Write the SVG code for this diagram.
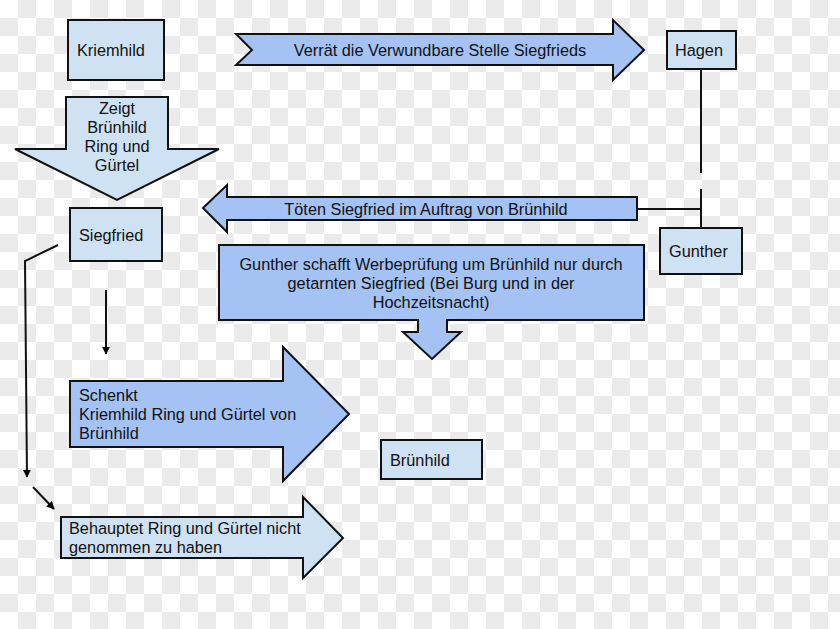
<svg xmlns="http://www.w3.org/2000/svg" width="840" height="629" viewBox="0 0 840 629">
<defs>
<pattern id="chk" x="0" y="0" width="36" height="36" patternUnits="userSpaceOnUse">
<rect width="36" height="36" fill="#ffffff"/>
<rect x="18" y="0" width="18" height="18" fill="#ebebeb"/>
<rect x="0" y="18" width="18" height="18" fill="#ebebeb"/>
</pattern>
<marker id="ah" viewBox="0 0 10 10" refX="9" refY="5" markerWidth="8" markerHeight="8" orient="auto" markerUnits="userSpaceOnUse">
<path d="M0,0 L10,5 L0,10 z" fill="#000"/>
</marker>
</defs>
<style>
.light{fill:#cfe2f3;stroke:#111;stroke-width:2}
.mid{fill:#a4c2f4;stroke:#111;stroke-width:2}
.t{font-family:"Liberation Sans",Arial,sans-serif;font-size:16.3px;fill:#111}
.c{text-anchor:middle}
.ln{stroke:#111;stroke-width:2;fill:none}
</style>
<rect width="840" height="629" fill="url(#chk)"/>

<g id="kriemhild">
<rect class="light" x="68" y="20" width="96" height="60"/>
<text class="t" x="77" y="56">Kriemhild</text>
</g>

<g id="zeigt">
<polygon class="light" points="66,97 168,97 168,149 219,149 117,200 15,149 66,149"/>
<text class="t c" x="117" y="114">Zeigt</text>
<text class="t c" x="117" y="133">Brünhild</text>
<text class="t c" x="117" y="152">Ring und</text>
<text class="t c" x="117" y="171">Gürtel</text>
</g>

<g id="verraet">
<polygon class="mid" points="236,34 613,34 613,20 644,50 613,80 613,65 236,65 252,50"/>
<text class="t c" x="440" y="56">Verrät die Verwundbare Stelle Siegfrieds</text>
</g>

<g id="hagen">
<rect class="light" x="667" y="31" width="69" height="38"/>
<text class="t" x="675" y="56">Hagen</text>
</g>

<g id="toeten">
<polygon class="mid" points="203,208 227,185 227,197 637,197 637,220 227,220 227,232"/>
<text class="t c" x="426" y="215">Töten Siegfried im Auftrag von Brünhild</text>
</g>

<g id="gunther">
<rect class="light" x="660" y="228" width="82" height="46"/>
<text class="t" x="669" y="257">Gunther</text>
</g>

<g id="siegfried">
<rect class="light" x="70" y="208" width="92" height="53"/>
<text class="t" x="79" y="241">Siegfried</text>
</g>

<g id="werbepruefung">
<polygon class="mid" points="219,245 644,245 644,320 447,320 447,332 461,332 432,359 403,332 418,332 418,320 219,320"/>
<text class="t c" x="431" y="270">Gunther schafft Werbeprüfung um Brünhild nur durch</text>
<text class="t c" x="431" y="289">getarnten Siegfried (Bei Burg und in der</text>
<text class="t c" x="431" y="308">Hochzeitsnacht)</text>
</g>

<g id="schenkt">
<polygon class="mid" points="70,381 283,381 283,347 349,414 283,481 283,447 70,447"/>
<text class="t" x="79" y="401">Schenkt</text>
<text class="t" x="79" y="420">Kriemhild Ring und Gürtel von</text>
<text class="t" x="79" y="439">Brünhild</text>
</g>

<g id="bruenhild">
<rect class="light" x="381" y="440" width="101" height="39"/>
<text class="t" x="390" y="466">Brünhild</text>
</g>

<g id="behauptet">
<polygon class="light" points="61,517 303,517 303,497 343,538 303,578 303,558 61,558"/>
<text class="t" x="69" y="534">Behauptet Ring und Gürtel nicht</text>
<text class="t" x="69" y="553">genommen zu haben</text>
</g>

<g id="connectors">
<line class="ln" x1="701" y1="69" x2="701" y2="173"/>
<line class="ln" x1="701" y1="189" x2="701" y2="228"/>
<line class="ln" x1="637" y1="209" x2="701" y2="209"/>
<polyline class="ln" points="58,245 25,261 27,477" marker-end="url(#ah)"/>
<line class="ln" x1="106" y1="290" x2="106" y2="354" marker-end="url(#ah)"/>
<line class="ln" x1="33" y1="487" x2="54" y2="509" marker-end="url(#ah)"/>
</g>
</svg>
